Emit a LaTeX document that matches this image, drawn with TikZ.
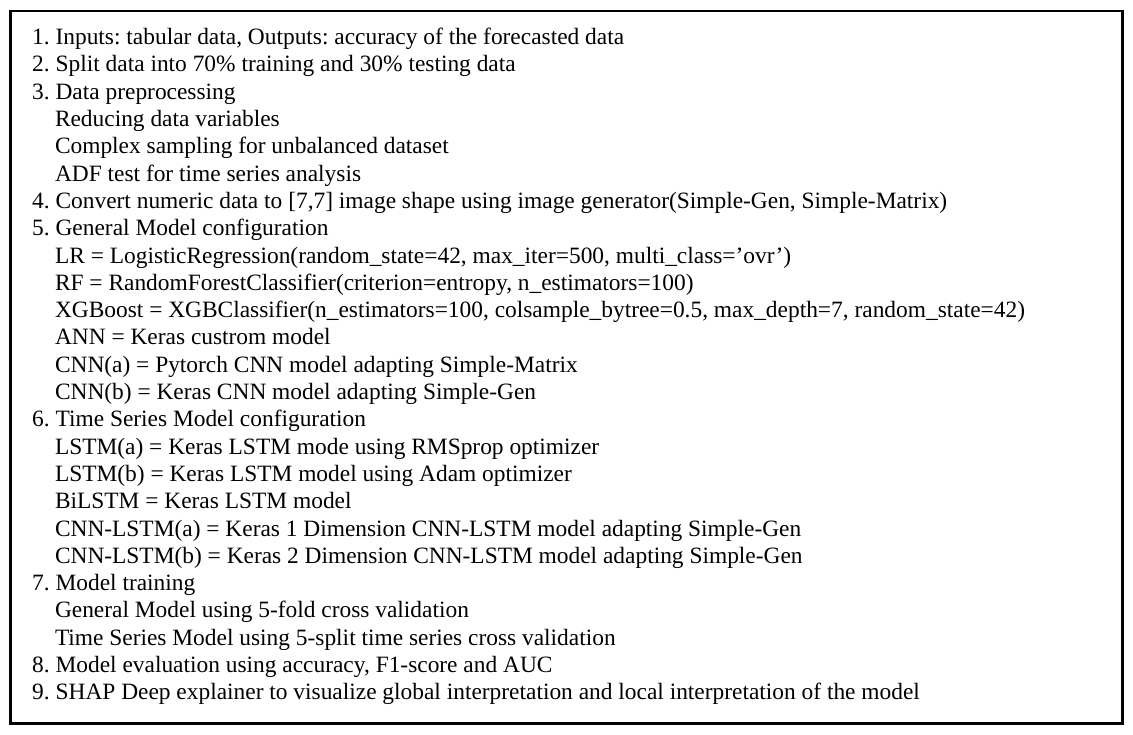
\documentclass[tikz,border=0pt]{standalone}
\usepackage{fontspec}
\setmainfont{Liberation Serif}
\frenchspacing
\begin{document}
\begin{tikzpicture}[x=1pt,y=1pt,
  txt/.style={anchor=base west,inner sep=0pt,font=\fontsize{23.4}{26}\selectfont},
  frame/.style={draw=black,line width=2.6pt}]
\useasboundingbox (0,0) rectangle (1133,734);
\node[frame,minimum width=1112pt,minimum height=712.5pt,inner sep=0pt] (box) at (566.5,366.75) {};
\foreach \i/\ind/\t in {
 1/0/{1. Inputs: tabular data, Outputs: accuracy of the forecasted data},
 2/0/{2. Split data into 70\% training and 30\% testing data},
 3/0/{3. Data preprocessing},
 4/1/{Reducing data variables},
 5/1/{Complex sampling for unbalanced dataset},
 6/1/{ADF test for time series analysis},
 7/0/{4. Convert numeric data to [7,7] image shape using image generator(Simple-Gen, Simple-Matrix)},
 8/0/{5. General Model configuration},
 9/1/{LR = LogisticRegression(random\_state=42, max\_iter=500, multi\_class=’ovr’)},
 10/1/{RF = RandomForestClassifier(criterion=entropy, n\_estimators=100)},
 11/1/{XGBoost = XGBClassifier(n\_estimators=100, colsample\_bytree=0.5, max\_depth=7, random\_state=42)},
 12/1/{ANN = Keras custrom model},
 13/1/{CNN(a) = Pytorch CNN model adapting Simple-Matrix},
 14/1/{CNN(b) = Keras CNN model adapting Simple-Gen},
 15/0/{6. Time Series Model configuration},
 16/1/{LSTM(a) = Keras LSTM mode using RMSprop optimizer},
 17/1/{LSTM(b) = Keras LSTM model using Adam optimizer},
 18/1/{BiLSTM = Keras LSTM model},
 19/1/{CNN-LSTM(a) = Keras 1 Dimension CNN-LSTM model adapting Simple-Gen},
 20/1/{CNN-LSTM(b) = Keras 2 Dimension CNN-LSTM model adapting Simple-Gen},
 21/0/{7. Model training},
 22/1/{General Model using 5-fold cross validation},
 23/1/{Time Series Model using 5-split time series cross validation},
 24/0/{8. Model evaluation using accuracy, F1-score and AUC},
 25/0/{9. SHAP Deep explainer to visualize global interpretation and local interpretation of the model}}
{
  \pgfmathsetmacro\yy{734-44.7-(\i-1)*27.3}
  \pgfmathsetmacro\xx{32+\ind*22.8}
  \node[txt] (l\i) at (\xx,\yy) {\t};
}
\end{tikzpicture}
\end{document}
